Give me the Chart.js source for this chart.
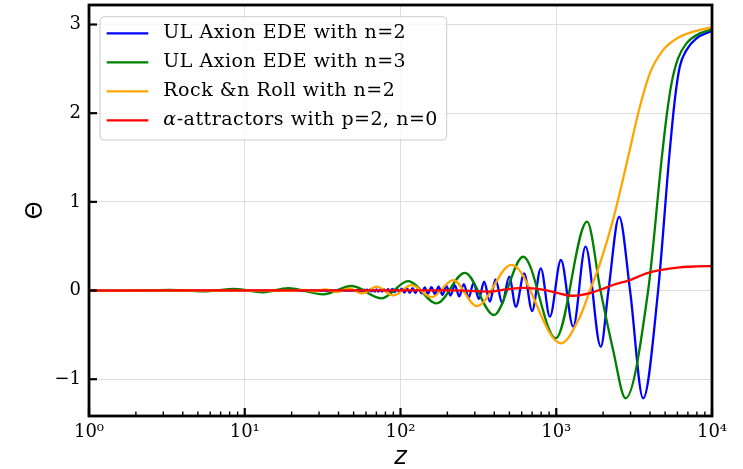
<!DOCTYPE html>
<html>
<head>
<meta charset="utf-8">
<script src="https://cdn.jsdelivr.net/npm/chart.js@4"></script>
<style>
  html, body { margin: 0; padding: 0; background: #fff; }
  canvas { display: block; }
</style>
</head>
<body>
<canvas id="chart" width="743" height="469"></canvas>
<script>
// Field evolution Θ(z) for four early-dark-energy models.
// Each curve is a list of [log10 z, Θ] pairs.

const seriesLabels = [
  'UL Axion EDE with n=2',
  'UL Axion EDE with n=3',
  'Rock &n Roll with n=2',
  'α-attractors with p=2, n=0'
];
const seriesColors = ['#0000ff', '#008000', '#ffa500', '#ff0000'];

const xTickValues = [1, 10, 100, 1000, 10000];
const xTickLabels = ['10⁰', '10¹', '10²', '10³', '10⁴'];
const yTickValues = [-1, 0, 1, 2, 3];

const axionN2 = [
  [0, 0], [1.72, 0],
  [1.7225, -0.007], [1.731, 0.007], [1.7395, -0.0075], [1.748, 0.008], [1.757, -0.008],
  [1.766, 0.0085], [1.775, -0.009], [1.7845, 0.009], [1.794, -0.0095],
  [1.8035, 0.010], [1.8135, -0.010], [1.824, 0.011], [1.835, -0.011], [1.846, 0.012],
  [1.8575, -0.012], [1.8695, 0.013], [1.8815, -0.013], [1.894, 0.014], [1.907, -0.015],
  [1.92, 0.015], [1.9335, -0.016], [1.9475, 0.017], [1.962, -0.018], [1.977, 0.019],
  [1.9925, -0.020], [2.0085, 0.021], [2.025, -0.022], [2.042, 0.024], [2.0595, -0.025],
  [2.0775, 0.027], [2.096, -0.028], [2.115, 0.030], [2.135, -0.032], [2.1555, 0.034],
  [2.1765, -0.036], [2.1985, 0.039], [2.221, -0.042], [2.2445, 0.045], [2.269, -0.048],
  [2.2945, 0.052], [2.321, -0.056], [2.3485, 0.061], [2.377, -0.067], [2.4065, 0.073],
  [2.4375, -0.080], [2.4695, 0.086], [2.503, -0.095], [2.537, 0.099], [2.574, -0.126],
  [2.610, 0.126], [2.653, -0.144], [2.698, 0.156], [2.741, -0.183], [2.794, 0.194],
  [2.845, -0.231], [2.901, 0.250], [2.959, -0.295], [3.030, 0.344], [3.109, -0.408],
  [3.188, 0.494], [3.286, -0.634], [3.335, 0], [3.404, 0.832], [3.474, 0],
  [3.558, -1.215], [3.654, 0], [3.725, 1.50], [3.761, 2.148], [3.793, 2.523],
  [3.836, 2.711], [3.900, 2.843], [4.000, 2.929]
];

const axionN3 = [
  [0, 0], [0.17, -0.004], [0.52, 0.008], [0.734, -0.010], [0.937, 0.017], [1.117, -0.020],
  [1.279, 0.027], [1.504, -0.043], [1.686, 0.051], [1.879, -0.088], [2.049, 0.107],
  [2.232, -0.145], [2.413, 0.200], [2.600, -0.276], [2.788, 0.381], [2.997, -0.539],
  [3.198, 0.776], [3.284, 0], [3.365, -0.67], [3.445, -1.215], [3.590, 0],
  [3.676, 1.47], [3.708, 1.96], [3.740, 2.336], [3.782, 2.618], [3.836, 2.787],
  [3.922, 2.900], [4.000, 2.945]
];

const rockNRoll = [
  [0, 0], [1.2, 0], [1.31, -0.005], [1.38, 0.007], [1.445, -0.009], [1.515, 0.013],
  [1.59, -0.018], [1.67, 0.025], [1.755, -0.033], [1.847, 0.043], [1.953, -0.055],
  [2.071, 0.060], [2.200, -0.075], [2.338, 0.118], [2.490, -0.175], [2.713, 0.290],
  [3.030, -0.595], [3.151, -0.30], [3.216, 0], [3.280, 0.30], [3.365, 0.80],
  [3.472, 1.584], [3.526, 2.000], [3.601, 2.449], [3.686, 2.711], [3.793, 2.861],
  [3.900, 2.929], [4.000, 2.967]
];

const alphaAttractor = [
  [0, 0], [2.30, 0.002], [2.45, -0.003], [2.57, -0.012], [2.68, 0.012], [2.79, 0.030],
  [2.92, 0.008], [3.00, -0.025], [3.11, -0.059], [3.216, -0.030], [3.30, 0.020],
  [3.365, 0.062], [3.472, 0.118], [3.58, 0.194], [3.665, 0.231], [3.793, 0.262],
  [3.90, 0.272], [4.00, 0.276]
];

const curves = [axionN2, axionN3, rockNRoll, alphaAttractor];

// minor tick positions of the log axis (2..9 in every decade)
const xMinorTicks = [1, 10, 100, 1000].flatMap(d => [2, 3, 4, 5, 6, 7, 8, 9].map(m => m * d));

const serif = 'DejaVu Serif';

// Legend drawn inside the plot, with a rounded translucent frame
const legendBox = {
  id: 'legendBox',
  afterDatasetsDraw(chart) {
    const { ctx, chartArea: a } = chart;
    const left = a.left + 11, top = a.top + 11.7, w = 346.7, h = 123.3, r = 4;
    ctx.save();
    ctx.beginPath();
    ctx.moveTo(left + r, top);
    ctx.lineTo(left + w - r, top);
    ctx.quadraticCurveTo(left + w, top, left + w, top + r);
    ctx.lineTo(left + w, top + h - r);
    ctx.quadraticCurveTo(left + w, top + h, left + w - r, top + h);
    ctx.lineTo(left + r, top + h);
    ctx.quadraticCurveTo(left, top + h, left, top + h - r);
    ctx.lineTo(left, top + r);
    ctx.quadraticCurveTo(left, top, left + r, top);
    ctx.closePath();
    ctx.fillStyle = 'rgba(255,255,255,0.8)';
    ctx.fill();
    ctx.strokeStyle = '#cccccc';
    ctx.lineWidth = 1;
    ctx.stroke();

    ctx.letterSpacing = '0.5px';
    chart.data.datasets.forEach((ds, i) => {
      const yy = top + 16.6 + i * 29;
      ctx.strokeStyle = ds.borderColor;
      ctx.lineWidth = 2.2;
      ctx.beginPath();
      ctx.moveTo(left + 6.7, yy);
      ctx.lineTo(left + 48.3, yy);
      ctx.stroke();

      ctx.fillStyle = '#000';
      ctx.textBaseline = 'middle';
      ctx.textAlign = 'left';
      let tx = left + 63.3;
      let text = ds.label;
      if (text.startsWith('α')) {
        ctx.font = `italic 19px "${serif}"`;
        ctx.fillText('α', tx, yy);
        tx += ctx.measureText('α').width;
        text = text.slice(1);
      }
      ctx.font = `19px "${serif}"`;
      ctx.fillText(text, tx, yy);
    });
    ctx.restore();
  }
};

// Inward tick marks and the black frame round the plot area
const axisFrame = {
  id: 'axisFrame',
  afterDraw(chart) {
    const { ctx, chartArea: a, scales: { x, y } } = chart;
    ctx.save();
    ctx.strokeStyle = '#000';
    const seg = (x0, y0, x1, y1, wd) => {
      ctx.lineWidth = wd;
      ctx.beginPath();
      ctx.moveTo(x0, y0);
      ctx.lineTo(x1, y1);
      ctx.stroke();
    };
    xMinorTicks.forEach(v => {
      const px = x.getPixelForValue(v);
      seg(px, a.bottom, px, a.bottom - 4.5, 1.4);
    });
    xTickValues.forEach(v => {
      const px = x.getPixelForValue(v);
      seg(px, a.bottom, px, a.bottom - 8, 2.2);
    });
    yTickValues.forEach(v => {
      const py = y.getPixelForValue(v);
      seg(a.left, py, a.left + 8, py, 2.2);
    });
    ctx.lineWidth = 2.8;
    ctx.strokeRect(a.left, a.top, a.right - a.left, a.bottom - a.top);
    ctx.restore();
  }
};

new Chart(document.getElementById('chart'), {
  type: 'line',
  data: {
    datasets: curves.map((pts, i) => ({
      label: seriesLabels[i],
      data: pts.map(([lz, th]) => ({ x: Math.pow(10, lz), y: th })),
      borderColor: seriesColors[i],
      borderWidth: 2.3,
      pointRadius: 0,
      fill: false,
      cubicInterpolationMode: 'monotone',
      order: curves.length - i
    }))
  },
  options: {
    responsive: false,
    animation: false,
    devicePixelRatio: 1,
    layout: { padding: { left: 0, right: 31, top: 5, bottom: 0 } },
    plugins: { legend: { display: false }, tooltip: { enabled: false } },
    scales: {
      x: {
        type: 'logarithmic',
        min: 1,
        max: 10000,
        afterBuildTicks: s => { s.ticks = xTickValues.map(v => ({ value: v })); },
        afterFit: s => { s.height = 53; s.paddingLeft = 0; s.paddingRight = 0; },
        grid: { color: '#dddddd', lineWidth: 1, drawTicks: false },
        border: { display: false },
        ticks: {
          autoSkip: false,
          maxRotation: 0,
          padding: 6,
          color: '#000',
          font: { family: serif, size: 18 },
          callback: v => xTickLabels[xTickValues.indexOf(v)]
        },
        title: {
          display: true,
          text: 'z',
          color: '#000',
          font: { family: 'DejaVu Sans', style: 'italic', size: 24, lineHeight: 0.9 },
          padding: { top: 0, bottom: 0 }
        }
      },
      y: {
        type: 'linear',
        min: -1.415,
        max: 3.22,
        afterBuildTicks: s => { s.ticks = yTickValues.map(v => ({ value: v })); },
        afterFit: s => { s.width = 89; s.paddingTop = 0; s.paddingBottom = 0; },
        grid: { color: '#dddddd', lineWidth: 1, drawTicks: false },
        border: { display: false },
        ticks: {
          padding: 8,
          color: '#000',
          font: { family: serif, size: 18 },
          callback: v => (v < 0 ? '\u2212' + Math.abs(v) : String(v))
        },
        title: {
          display: true,
          text: 'Θ',
          color: '#000',
          font: { family: 'DejaVu Sans', size: 23, weight: 'normal', lineHeight: 1.2 },
          padding: { top: 22, bottom: 0 }
        }
      }
    }
  },
  plugins: [legendBox, axisFrame]
});
</script>
</body>
</html>
